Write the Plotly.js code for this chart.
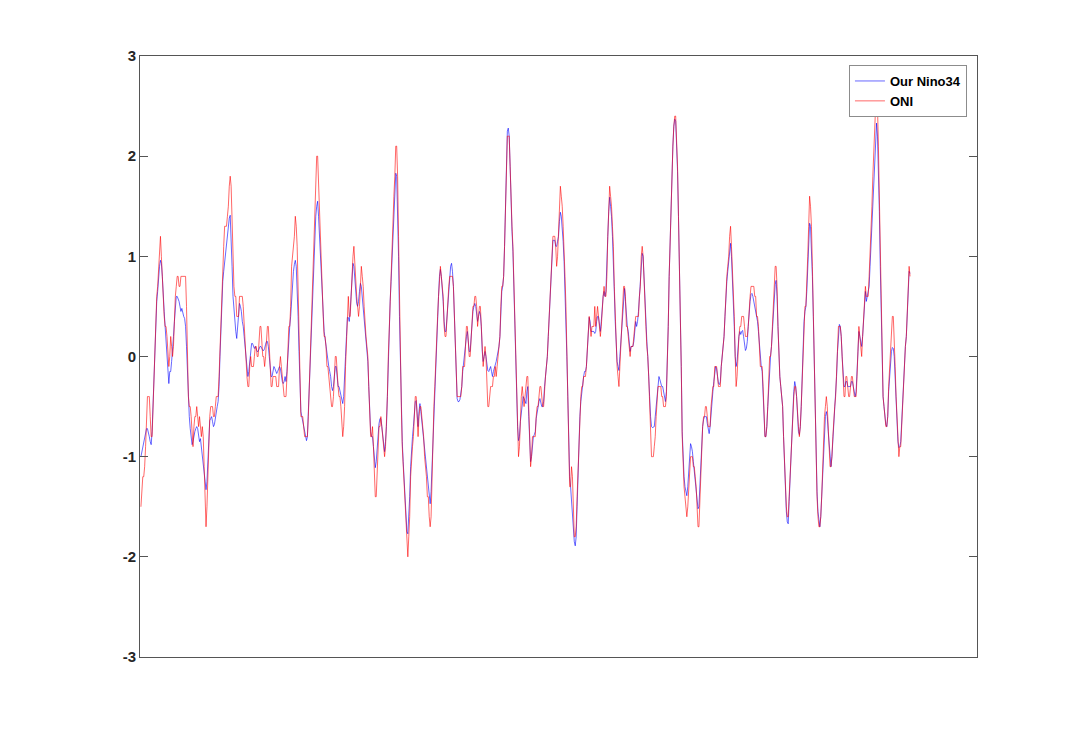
<!DOCTYPE html>
<html>
<head>
<meta charset="utf-8">
<script src="https://cdn.plot.ly/plotly-3.0.1.min.js"></script>
<style>html,body{margin:0;padding:0;background:#fff;}#chart{width:1080px;height:739px;}</style>
</head>
<body>
<div id="chart"></div>
<script>
// Monthly series, Jan 1950 - Dec 2018 (one row per year)
const ourNino34 = [
-1.0,-0.95,-0.92,-0.88,-0.8,-0.75,-0.72,-0.72,-0.78,-0.8,-0.85,-0.88,
-0.75,-0.45,-0.15,0.15,0.35,0.55,0.65,0.8,0.9,0.96,0.93,0.8,
0.55,0.45,0.3,0.15,0.0,-0.2,-0.27,-0.15,-0.15,-0.05,0.05,0.2,
0.35,0.5,0.6,0.6,0.58,0.55,0.5,0.45,0.48,0.42,0.4,0.38,
0.3,0.1,-0.2,-0.45,-0.6,-0.72,-0.8,-0.88,-0.85,-0.78,-0.75,-0.72,
-0.7,-0.72,-0.8,-0.85,-0.82,-0.9,-1.0,-1.1,-1.15,-1.25,-1.33,-1.25,
-1.0,-0.75,-0.64,-0.62,-0.6,-0.65,-0.7,-0.68,-0.6,-0.55,-0.5,-0.45,
-0.3,0.0,0.3,0.55,0.75,0.85,0.95,1.05,1.1,1.2,1.3,1.38,
1.41,1.2,0.9,0.6,0.45,0.35,0.25,0.18,0.3,0.45,0.53,0.5,
0.45,0.35,0.3,0.2,0.1,-0.05,-0.15,-0.2,-0.15,-0.05,0.05,0.13,
0.13,0.1,0.08,0.1,0.08,0.05,0.05,0.07,0.1,0.1,0.07,0.06,
0.06,0.08,0.12,0.15,0.15,0.1,0.0,-0.1,-0.2,-0.2,-0.15,-0.1,
-0.12,-0.15,-0.17,-0.15,-0.12,-0.1,-0.12,-0.2,-0.25,-0.27,-0.25,-0.2,
-0.25,-0.15,0.05,0.2,0.3,0.4,0.6,0.75,0.85,0.92,0.96,0.9,
0.7,0.4,0.05,-0.3,-0.55,-0.6,-0.65,-0.7,-0.78,-0.82,-0.84,-0.8,
-0.55,-0.3,-0.05,0.2,0.45,0.7,1.0,1.2,1.4,1.5,1.55,1.4,
1.2,1.0,0.85,0.65,0.4,0.25,0.18,0.1,0.0,-0.05,-0.1,-0.15,
-0.2,-0.3,-0.34,-0.3,-0.2,-0.1,-0.1,-0.2,-0.3,-0.3,-0.35,-0.4,
-0.45,-0.47,-0.4,-0.25,0.0,0.2,0.39,0.39,0.35,0.45,0.65,0.85,
0.93,0.9,0.75,0.6,0.53,0.5,0.55,0.65,0.73,0.7,0.6,0.5,
0.4,0.3,0.2,0.1,-0.05,-0.3,-0.55,-0.75,-0.8,-0.8,-0.9,-1.0,
-1.11,-1.05,-0.9,-0.75,-0.67,-0.62,-0.62,-0.7,-0.8,-0.9,-0.95,-0.85,
-0.7,-0.4,0.0,0.3,0.55,0.75,1.0,1.25,1.45,1.65,1.83,1.8,
1.5,1.0,0.4,-0.1,-0.5,-0.85,-1.05,-1.25,-1.45,-1.6,-1.75,-1.77,
-1.6,-1.4,-1.1,-0.9,-0.8,-0.7,-0.55,-0.45,-0.44,-0.6,-0.7,-0.55,
-0.47,-0.55,-0.65,-0.7,-0.8,-0.95,-1.05,-1.15,-1.25,-1.35,-1.42,-1.47,
-1.35,-1.1,-0.7,-0.45,-0.3,0.0,0.2,0.4,0.6,0.8,0.87,0.8,
0.7,0.55,0.35,0.25,0.25,0.4,0.55,0.7,0.85,0.9,0.93,0.85,
0.7,0.4,0.0,-0.3,-0.42,-0.45,-0.45,-0.43,-0.38,-0.3,-0.15,-0.05,
0.0,0.1,0.2,0.25,0.15,0.05,0.05,0.2,0.35,0.45,0.5,0.53,
0.5,0.4,0.35,0.4,0.45,0.42,0.3,0.05,-0.05,0.0,0.05,0.0,
-0.1,-0.14,-0.15,-0.12,-0.1,-0.15,-0.2,-0.15,-0.12,-0.08,-0.05,0.0,
0.05,0.1,0.2,0.45,0.65,0.7,0.8,1.1,1.6,2.0,2.25,2.28,
2.2,1.9,1.5,1.25,1.05,0.7,0.3,-0.1,-0.45,-0.7,-0.84,-0.8,
-0.65,-0.55,-0.45,-0.4,-0.42,-0.45,-0.47,-0.35,-0.3,-0.6,-0.9,-1.05,
-1.0,-0.85,-0.8,-0.78,-0.75,-0.62,-0.55,-0.52,-0.45,-0.42,-0.45,-0.5,
-0.5,-0.45,-0.3,-0.2,-0.1,0.0,0.2,0.4,0.7,0.9,1.1,1.16,
1.16,1.16,1.1,1.1,1.15,1.2,1.35,1.44,1.4,1.3,1.15,0.95,
0.7,0.4,0.0,-0.4,-0.9,-1.2,-1.3,-1.45,-1.55,-1.7,-1.85,-1.89,
-1.8,-1.5,-1.15,-0.85,-0.6,-0.45,-0.35,-0.3,-0.2,-0.15,-0.15,-0.1,
0.1,0.25,0.39,0.35,0.25,0.25,0.25,0.25,0.23,0.25,0.35,0.4,
0.4,0.3,0.25,0.35,0.5,0.6,0.65,0.6,0.65,0.85,1.2,1.45,
1.59,1.5,1.4,1.2,1.0,0.65,0.35,0.1,-0.05,-0.1,-0.14,0.0,
0.15,0.35,0.5,0.65,0.68,0.55,0.4,0.3,0.25,0.1,0.05,0.1,
0.1,0.1,0.15,0.25,0.35,0.3,0.35,0.45,0.6,0.75,0.95,1.03,
1.0,0.75,0.5,0.3,0.15,0.0,-0.15,-0.4,-0.6,-0.7,-0.71,-0.7,
-0.7,-0.6,-0.5,-0.35,-0.25,-0.2,-0.23,-0.28,-0.3,-0.3,-0.35,-0.4,
-0.45,-0.35,-0.1,0.3,0.8,1.2,1.6,1.9,2.1,2.3,2.37,2.35,
2.15,1.85,1.4,1.0,0.5,-0.1,-0.75,-1.05,-1.2,-1.3,-1.35,-1.39,
-1.3,-1.15,-0.95,-0.87,-0.9,-0.95,-1.05,-1.15,-1.25,-1.35,-1.45,-1.52,
-1.5,-1.3,-1.05,-0.85,-0.7,-0.63,-0.6,-0.6,-0.6,-0.67,-0.75,-0.77,
-0.7,-0.55,-0.45,-0.35,-0.25,-0.15,-0.1,-0.12,-0.2,-0.27,-0.28,-0.25,
-0.1,0.0,0.1,0.2,0.4,0.65,0.75,0.85,0.95,1.05,1.13,1.0,
0.8,0.55,0.3,0.0,-0.1,-0.05,0.1,0.2,0.25,0.22,0.25,0.26,
0.2,0.1,0.06,0.08,0.15,0.3,0.45,0.55,0.62,0.63,0.6,0.55,
0.5,0.45,0.4,0.35,0.25,0.1,-0.05,-0.1,-0.15,-0.35,-0.6,-0.8,
-0.8,-0.7,-0.5,-0.3,-0.05,0.0,0.1,0.25,0.45,0.6,0.72,0.76,
0.6,0.3,0.0,-0.2,-0.3,-0.4,-0.5,-0.8,-1.1,-1.4,-1.55,-1.65,
-1.67,-1.45,-1.2,-0.9,-0.75,-0.5,-0.35,-0.25,-0.3,-0.4,-0.6,-0.75,
-0.78,-0.7,-0.5,-0.2,0.1,0.35,0.45,0.5,0.65,0.9,1.15,1.33,
1.3,1.1,0.8,0.4,-0.1,-0.6,-1.0,-1.35,-1.55,-1.65,-1.7,-1.6,
-1.4,-1.1,-0.85,-0.7,-0.6,-0.55,-0.6,-0.75,-0.9,-1.05,-1.1,-1.0,
-0.85,-0.65,-0.5,-0.4,-0.2,0.05,0.25,0.32,0.3,0.2,0.0,-0.2,
-0.3,-0.3,-0.25,-0.25,-0.3,-0.3,-0.3,-0.3,-0.25,-0.25,-0.3,-0.35,
-0.4,-0.35,-0.2,0.05,0.25,0.2,0.15,0.1,0.2,0.4,0.6,0.65,
0.55,0.6,0.65,0.7,0.9,1.1,1.35,1.6,1.85,2.05,2.25,2.33,
2.2,1.9,1.45,0.9,0.4,-0.1,-0.4,-0.5,-0.6,-0.68,-0.7,-0.6,
-0.35,-0.2,0.0,0.05,0.09,0.08,0.0,-0.2,-0.45,-0.7,-0.85,-0.91,
-0.9,-0.85,-0.65,-0.45,-0.2,0.0,0.1,0.2,0.45,0.7,0.85,0.83
];

const oni = [
-1.5,-1.3,-1.2,-1.2,-1.1,-0.9,-0.5,-0.4,-0.4,-0.4,-0.6,-0.8,
-0.8,-0.5,-0.2,0.2,0.4,0.6,0.7,0.9,1.0,1.2,1.0,0.8,
0.5,0.4,0.3,0.3,0.2,0.0,-0.1,0.0,0.2,0.1,0.0,0.1,
0.4,0.6,0.7,0.8,0.8,0.7,0.7,0.8,0.8,0.8,0.8,0.8,
0.8,0.5,0.0,-0.4,-0.5,-0.5,-0.6,-0.8,-0.9,-0.7,-0.6,-0.6,
-0.5,-0.6,-0.7,-0.6,-0.7,-0.8,-0.7,-0.8,-1.1,-1.4,-1.7,-1.5,
-1.1,-0.8,-0.6,-0.5,-0.5,-0.5,-0.6,-0.6,-0.5,-0.4,-0.4,-0.4,
-0.2,0.1,0.4,0.7,0.9,1.1,1.3,1.3,1.3,1.4,1.5,1.7,
1.8,1.7,1.3,0.9,0.7,0.6,0.6,0.4,0.4,0.4,0.6,0.6,
0.6,0.6,0.5,0.3,0.1,-0.1,-0.2,-0.3,-0.3,-0.1,0.0,-0.1,
-0.1,-0.1,0.0,0.1,0.1,0.0,0.0,0.2,0.3,0.3,0.1,0.0,
0.0,-0.1,0.0,0.2,0.3,0.3,0.1,-0.1,-0.3,-0.3,-0.2,-0.2,
-0.2,-0.2,-0.3,-0.3,-0.3,-0.1,0.0,-0.1,-0.2,-0.3,-0.4,-0.4,
-0.4,-0.2,0.2,0.3,0.3,0.5,0.9,1.0,1.1,1.2,1.4,1.3,
1.1,0.6,0.1,-0.3,-0.6,-0.6,-0.6,-0.7,-0.8,-0.8,-0.8,-0.8,
-0.6,-0.3,-0.1,0.2,0.5,0.8,1.2,1.5,1.9,2.0,2.0,1.7,
1.4,1.2,1.0,0.7,0.4,0.2,0.2,0.1,-0.1,-0.1,-0.2,-0.3,
-0.4,-0.5,-0.5,-0.4,-0.2,0.0,0.0,-0.2,-0.3,-0.4,-0.4,-0.5,
-0.7,-0.8,-0.7,-0.5,-0.1,0.2,0.5,0.6,0.4,0.4,0.6,0.9,
1.0,1.1,0.9,0.7,0.6,0.5,0.4,0.5,0.7,0.9,0.8,0.7,
0.5,0.3,0.2,0.1,0.0,-0.3,-0.6,-0.8,-0.8,-0.7,-0.9,-1.2,
-1.4,-1.4,-1.1,-0.8,-0.7,-0.7,-0.6,-0.7,-0.8,-0.9,-1.0,-0.9,
-0.7,-0.4,0.0,0.3,0.6,0.8,1.1,1.4,1.6,1.8,2.1,2.1,
1.8,1.2,0.5,-0.1,-0.5,-0.9,-1.1,-1.3,-1.5,-1.7,-1.9,-2.0,
-1.8,-1.6,-1.2,-1.0,-0.9,-0.8,-0.5,-0.4,-0.4,-0.6,-0.8,-0.6,
-0.5,-0.5,-0.6,-0.7,-0.8,-1.0,-1.1,-1.2,-1.4,-1.4,-1.6,-1.7,
-1.6,-1.2,-0.7,-0.5,-0.3,0.0,0.2,0.4,0.6,0.8,0.9,0.8,
0.7,0.6,0.3,0.2,0.2,0.4,0.5,0.7,0.8,0.8,0.8,0.8,
0.7,0.4,0.0,-0.3,-0.4,-0.4,-0.4,-0.4,-0.4,-0.3,-0.1,-0.1,
-0.1,0.1,0.3,0.3,0.1,0.0,0.0,0.2,0.3,0.5,0.5,0.6,
0.6,0.5,0.3,0.4,0.5,0.5,0.3,0.0,-0.1,0.0,0.1,0.0,
-0.3,-0.5,-0.5,-0.4,-0.3,-0.3,-0.3,-0.2,-0.2,-0.1,-0.2,-0.1,
0.0,0.1,0.2,0.5,0.7,0.7,0.8,1.1,1.6,2.0,2.2,2.2,
2.2,1.9,1.5,1.3,1.1,0.7,0.3,-0.1,-0.5,-0.8,-1.0,-0.9,
-0.6,-0.4,-0.3,-0.4,-0.5,-0.4,-0.3,-0.2,-0.2,-0.6,-0.9,-1.1,
-1.0,-0.8,-0.8,-0.8,-0.8,-0.6,-0.5,-0.5,-0.4,-0.3,-0.3,-0.4,
-0.5,-0.5,-0.3,-0.2,-0.1,0.0,0.2,0.4,0.7,0.9,1.1,1.2,
1.2,1.2,1.1,0.9,1.0,1.2,1.5,1.7,1.6,1.5,1.3,1.1,
0.8,0.5,0.1,-0.3,-0.9,-1.3,-1.3,-1.1,-1.2,-1.5,-1.8,-1.8,
-1.7,-1.4,-1.1,-0.8,-0.6,-0.4,-0.3,-0.3,-0.2,-0.2,-0.2,-0.1,
0.1,0.2,0.4,0.3,0.2,0.3,0.3,0.3,0.5,0.3,0.4,0.5,
0.4,0.3,0.2,0.3,0.5,0.6,0.7,0.6,0.6,0.8,1.2,1.5,
1.7,1.6,1.5,1.3,1.1,0.7,0.4,0.1,-0.1,-0.2,-0.3,-0.1,
0.1,0.3,0.5,0.7,0.7,0.6,0.3,0.3,0.2,0.1,0.0,0.1,
0.1,0.1,0.2,0.3,0.4,0.4,0.4,0.4,0.6,0.7,1.0,1.1,
1.0,0.7,0.5,0.3,0.1,0.0,-0.2,-0.5,-0.8,-1.0,-1.0,-1.0,
-0.9,-0.8,-0.6,-0.4,-0.3,-0.3,-0.3,-0.3,-0.4,-0.4,-0.5,-0.5,
-0.5,-0.4,-0.1,0.3,0.8,1.2,1.6,1.9,2.1,2.3,2.4,2.4,
2.2,1.9,1.4,1.0,0.5,-0.1,-0.8,-1.1,-1.3,-1.4,-1.5,-1.6,
-1.5,-1.3,-1.1,-1.0,-1.0,-1.0,-1.1,-1.1,-1.2,-1.3,-1.5,-1.7,
-1.7,-1.4,-1.1,-0.8,-0.7,-0.6,-0.6,-0.5,-0.5,-0.6,-0.7,-0.7,
-0.7,-0.5,-0.4,-0.3,-0.3,-0.1,-0.1,-0.1,-0.2,-0.3,-0.3,-0.3,
-0.1,0.0,0.1,0.2,0.4,0.7,0.8,0.9,1.0,1.2,1.3,1.1,
0.9,0.6,0.4,0.0,-0.3,-0.2,0.1,0.2,0.3,0.3,0.4,0.4,
0.4,0.3,0.2,0.2,0.2,0.3,0.5,0.6,0.7,0.7,0.7,0.7,
0.6,0.6,0.4,0.4,0.3,0.1,-0.1,-0.1,-0.1,-0.3,-0.6,-0.8,
-0.8,-0.7,-0.5,-0.3,0.0,0.0,0.1,0.3,0.5,0.7,0.9,0.9,
0.7,0.3,0.0,-0.2,-0.3,-0.4,-0.5,-0.8,-1.1,-1.4,-1.5,-1.6,
-1.6,-1.4,-1.2,-0.9,-0.8,-0.5,-0.4,-0.3,-0.3,-0.4,-0.6,-0.7,
-0.8,-0.7,-0.5,-0.2,0.1,0.4,0.5,0.5,0.7,1.0,1.3,1.6,
1.5,1.3,0.9,0.4,-0.1,-0.6,-1.0,-1.4,-1.6,-1.7,-1.7,-1.6,
-1.4,-1.1,-0.8,-0.6,-0.5,-0.4,-0.5,-0.7,-0.9,-1.1,-1.1,-1.0,
-0.8,-0.6,-0.5,-0.4,-0.2,0.1,0.3,0.3,0.3,0.2,0.0,-0.2,
-0.4,-0.4,-0.2,-0.2,-0.3,-0.4,-0.4,-0.3,-0.2,-0.2,-0.3,-0.4,
-0.4,-0.4,-0.2,0.1,0.3,0.2,0.1,0.0,0.2,0.4,0.6,0.7,
0.6,0.6,0.6,0.8,1.0,1.2,1.5,1.8,2.1,2.4,2.5,2.6,
2.5,2.1,1.6,0.9,0.4,-0.1,-0.4,-0.5,-0.6,-0.7,-0.7,-0.6,
-0.3,-0.1,0.1,0.3,0.4,0.4,0.2,-0.1,-0.4,-0.7,-0.8,-1.0,
-0.9,-0.9,-0.7,-0.5,-0.2,0.0,0.1,0.2,0.5,0.8,0.9,0.8
];

const seriesNames = ["Our Nino34", "ONI"];
const yTickVals = [-3, -2, -1, 0, 1, 2, 3];
const yTickText = ["-3", "-2", "-1", "0", "1", "2", "3"];

const monthIndex = oni.map((_, i) => i + 1);

const traces = [
  {x: monthIndex, y: ourNino34, type: "scatter", mode: "lines", name: seriesNames[0],
   line: {color: "#0000ff", width: 0.6}},
  {x: monthIndex, y: oni, type: "scatter", mode: "lines", name: seriesNames[1],
   line: {color: "#ff0000", width: 0.6}}
];

const axisFont = {family: "Liberation Sans, Arial, sans-serif", size: 15, color: "#262626", weight: "bold"};

const layout = {
  width: 1080, height: 739,
  margin: {l: 140, r: 103, t: 56, b: 82, pad: 0},
  paper_bgcolor: "#ffffff", plot_bgcolor: "#ffffff",
  showlegend: true,
  legend: {
    x: 0.988, y: 0.985, xanchor: "right", yanchor: "top",
    bgcolor: "#ffffff", bordercolor: "#8c8c8c", borderwidth: 1,
    font: {family: "Liberation Sans, Arial, sans-serif", size: 13, color: "#000000", weight: "bold"},
    tracegroupgap: 0
  },
  xaxis: {
    range: [0, 900], showticklabels: false, ticks: "", showgrid: false, zeroline: false,
    showline: true, linecolor: "#555555", linewidth: 1, mirror: true
  },
  yaxis: {
    range: [-3, 3], tickvals: yTickVals, ticktext: yTickText, tickfont: axisFont,
    ticks: "inside", ticklen: 8, tickcolor: "#555555", tickwidth: 1,
    showgrid: false, zeroline: false,
    showline: true, linecolor: "#555555", linewidth: 1, mirror: "ticks"
  }
};

Plotly.newPlot("chart", traces, layout, {displayModeBar: false, staticPlot: true});
</script>
</body>
</html>
